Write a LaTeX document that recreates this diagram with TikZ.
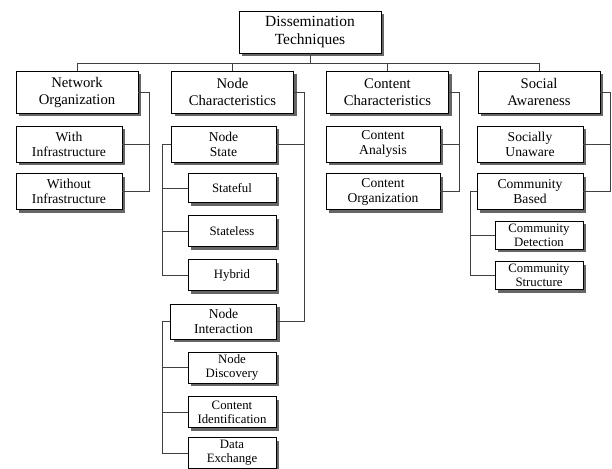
\documentclass[tikz,border=0pt]{standalone}
\usepackage{fontspec}
\setmainfont{Liberation Serif}
\usetikzlibrary{shadows}

\begin{document}
\begin{tikzpicture}[x=1pt, y=-1pt,
    box/.style ={draw, fill=white, line width=0.8pt, align=center, inner sep=1pt,
      drop shadow={shadow xshift=3pt, shadow yshift=-3pt, fill=black!60, opacity=1}},
    top/.style ={box, minimum width=142pt, minimum height=42pt, font=\fontsize{15.5}{18.5}\selectfont},
    category/.style ={box, minimum width=122pt, minimum height=42pt, font=\fontsize{14.7}{17}\selectfont},
    technique/.style ={box, minimum height=36pt, font=\fontsize{13.6}{15}\selectfont},
    leaf/.style ={box, minimum width=88pt, minimum height=31pt, font=\fontsize{12.8}{14}\selectfont},
    link/.style ={draw=black!75, line width=0.7pt}]
   \useasboundingbox (0,0) rectangle (612,468);
   % root and categories
   \node[top] (root) at (310,32) {Dissemination\\Techniques};
   \node[category] (netorg)   at (77,92)    {Network\\Organization};
   \node[category] (nodechar) at (232.5,92) {Node\\Characteristics};
   \node[category] (contchar) at (387.5,92) {Content\\Characteristics};
   \node[category] (social)   at (539,92)   {Social\\Awareness};
   % second level
   \node[technique, minimum width=106pt] (with)      at (69,144)     {With\\Infrastructure};
   \node[technique, minimum width=106pt] (without)   at (69,191.5)   {Without\\Infrastructure};
   \node[technique, minimum width=105pt] (nstate)    at (223.5,144)  {Node\\State};
   \node[technique, minimum width=106pt, minimum height=35pt] (ninteract) at (223.5,321.5) {Node\\Interaction};
   \node[technique, minimum width=114pt] (canalysis) at (383,144)    {Content\\Analysis};
   \node[technique, minimum width=114pt] (corg)      at (383,191.5)  {Content\\Organization};
   \node[technique, minimum width=106pt] (sunaware)  at (530,144)    {Socially\\Unaware};
   \node[technique, minimum width=106pt] (commbased) at (530,191.5)  {Community\\Based};
   % leaves
   \node[leaf, minimum height=29pt] (stateful)  at (232,188)   {Stateful};
   \node[leaf] (stateless) at (232,231)   {Stateless};
   \node[leaf] (hybrid)    at (232,275)   {Hybrid};
   \node[leaf] (ndisc)     at (232,367.5) {Node\\Discovery};
   \node[leaf] (cident)    at (232,412)   {Content\\Identification};
   \node[leaf] (dexch)     at (232,453)   {Data\\Exchange};
   \node[leaf, minimum height=28pt] (cdetect) at (539,235)   {Community\\Detection};
   \node[leaf, minimum height=28pt] (cstruct) at (539,275.5) {Community\\Structure};
   % bus under the root
   \foreach \n in {netorg, nodechar, contchar, social}
     \draw[link] (root.south) -- ++(0,10) -| (\n.north);
   % brackets
   \draw[link] (netorg.east) -- ++(11,0) coordinate (nobr) |- (without.east);
   \draw[link] (with.east) -- (with.east -| nobr);
   \draw[link] (nodechar.east) -- ++(10,0) coordinate (ncbr) |- (ninteract.east);
   \draw[link] (nstate.east) -- (nstate.east -| ncbr);
   \draw[link] (nstate.west) -- ++(-8,0) coordinate (nsbr) |- (hybrid.west);
   \foreach \n in {stateful, stateless}
     \draw[link] (\n.west) -- (\n.west -| nsbr);
   \draw[link] (ninteract.west) -- ++(-7.5,0) coordinate (nibr) |- (dexch.west);
   \foreach \n in {ndisc, cident}
     \draw[link] (\n.west) -- (\n.west -| nibr);
   \draw[link] (contchar.east) -- ++(10,0) coordinate (ccbr) |- (corg.east);
   \draw[link] (canalysis.east) -- (canalysis.east -| ccbr);
   \draw[link] (social.east) -- ++(10,0) coordinate (sabr) |- (commbased.east);
   \draw[link] (sunaware.east) -- (sunaware.east -| sabr);
   \draw[link] (commbased.west) -- ++(-6,0) coordinate (cbbr) |- (cstruct.west);
   \draw[link] (cdetect.west) -- (cdetect.west -| cbbr);
\end{tikzpicture}
\end{document}
